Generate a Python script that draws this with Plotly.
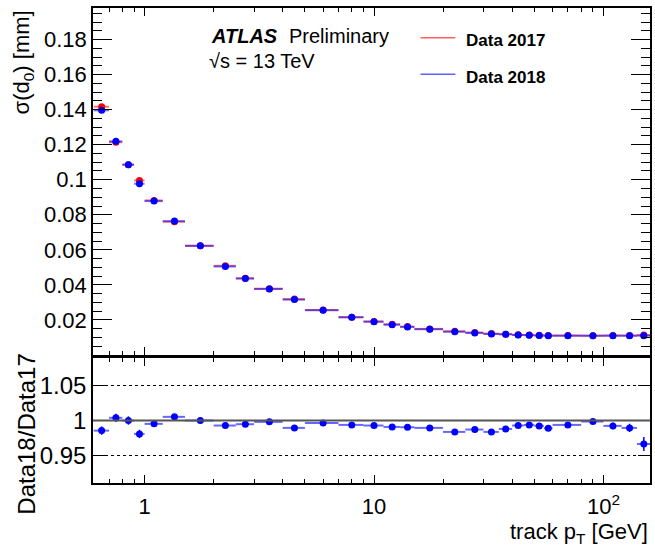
import plotly.graph_objects as go

# ---- data ----
bin_edges = [0.6, 0.7, 0.8, 0.9, 1.0, 1.2, 1.5, 2.0, 2.5, 3.0, 4.0, 5.0, 7.0, 9.0, 11.0, 13.0,
             15.0, 20.0, 25.0, 30.0, 35.0, 40.0, 45.0, 50.0, 55.0, 60.0, 80.0, 100.0, 120.0,
             140.0, 160.0]

data2017 = [0.1417, 0.1214, 0.1086, 0.0996, 0.0882, 0.0760, 0.0623, 0.0509, 0.0438, 0.0378,
            0.0319, 0.0256, 0.0216, 0.0191, 0.0175, 0.0162, 0.0149, 0.0135, 0.0128, 0.0122,
            0.0119, 0.0115, 0.0114, 0.0112, 0.0111, 0.0111, 0.0110, 0.0111, 0.0111, 0.0114]

data2018 = [0.1396, 0.1219, 0.1086, 0.0977, 0.0878, 0.0764, 0.0623, 0.0505, 0.0436, 0.0377,
            0.0316, 0.0255, 0.0215, 0.0190, 0.0173, 0.0160, 0.0147, 0.0133, 0.0126, 0.0120,
            0.0118, 0.0114, 0.0113, 0.0111, 0.0110, 0.0110, 0.0110, 0.0110, 0.0110, 0.0110]

ratio = [0.9855, 1.0039, 1.0000, 0.9807, 0.9952, 1.0053, 1.0000, 0.9928, 0.9947, 0.9981,
         0.9894, 0.9966, 0.9937, 0.9928, 0.9908, 0.9903, 0.9894, 0.9836, 0.9870, 0.9836,
         0.9879, 0.9928, 0.9937, 0.9923, 0.9889, 0.9937, 0.9986, 0.9923, 0.9894, 0.9662]

ratio_err = [0.006, 0.006, 0.006, 0.006, 0.004, 0.004, 0.002, 0.002, 0.002, 0.002,
             0.002, 0.002, 0.002, 0.002, 0.002, 0.002, 0.002, 0.002, 0.002, 0.002,
             0.002, 0.002, 0.002, 0.002, 0.003, 0.002, 0.003, 0.005, 0.006, 0.010]

y_ticks = [0.02, 0.04, 0.06, 0.08, 0.10, 0.12, 0.14, 0.16, 0.18]
y_ticktext = ["0.02", "0.04", "0.06", "0.08", "0.1", "0.12", "0.14", "0.16", "0.18"]
r_ticks = [0.95, 1.0, 1.05]
r_ticktext = ["0.95", "1", "1.05"]
x_ticks = [1, 10, 100]
x_ticktext = ["1", "10", "10<sup>2</sup>"]
x_minor = [0.6, 0.7, 0.8, 0.9, 2, 3, 4, 5, 6, 7, 8, 9, 20, 30, 40, 50, 60, 70, 80, 90]

# ---- derived bin geometry ----
lo = bin_edges[:-1]
hi = bin_edges[1:]
centers = [(a + b) / 2 for a, b in zip(lo, hi)]
err_plus = [b - c for b, c in zip(hi, centers)]
err_minus = [c - a for a, c in zip(lo, centers)]

FONT = "Liberation Sans, Arial, Helvetica, sans-serif"
RED = "#ff0000"
BLUE = "#0000ff"

fig = go.Figure()

fig.add_trace(go.Scatter(
    x=centers, y=data2017, mode="markers", name="Data 2017",
    marker=dict(color=RED, size=7),
    error_x=dict(type="data", symmetric=False, array=err_plus, arrayminus=err_minus,
                 color="rgba(255,0,0,0.55)", thickness=2, width=0),
    xaxis="x", yaxis="y", showlegend=False))

fig.add_trace(go.Scatter(
    x=centers, y=data2018, mode="markers", name="Data 2018",
    marker=dict(color=BLUE, size=7),
    error_x=dict(type="data", symmetric=False, array=err_plus, arrayminus=err_minus,
                 color="rgba(0,0,255,0.55)", thickness=2, width=0),
    xaxis="x", yaxis="y", showlegend=False))

fig.add_trace(go.Scatter(
    x=centers, y=ratio, mode="markers", name="ratio",
    marker=dict(color=BLUE, size=7),
    error_x=dict(type="data", symmetric=False, array=err_plus, arrayminus=err_minus,
                 color="rgba(0,0,255,0.6)", thickness=2, width=0),
    error_y=dict(type="data", array=ratio_err, color=BLUE, thickness=1.5, width=0),
    xaxis="x2", yaxis="y2", showlegend=False))

xrange = [-0.2248, 2.203]
axis_common = dict(showline=True, linecolor="black", linewidth=1.5, mirror="allticks",
                   ticks="inside", tickcolor="black", zeroline=False, showgrid=False)

fig.update_layout(
    width=655, height=548,
    margin=dict(l=93, r=3, t=8, b=65),
    paper_bgcolor="white", plot_bgcolor="white",
    font=dict(family=FONT, color="black"),
    xaxis=dict(type="log", range=xrange, domain=[0, 1], anchor="y",
               tickmode="array", tickvals=x_ticks, showticklabels=False, ticklen=8,
               minor=dict(tickmode="array", tickvals=x_minor, ticks="inside", ticklen=4,
                          tickcolor="black", showgrid=False),
               **axis_common),
    yaxis=dict(range=[0, 0.198], domain=[0.2695, 1], anchor="x",
               tickmode="array", tickvals=y_ticks, ticktext=y_ticktext, ticklen=19,
               tickfont=dict(size=22),
               minor=dict(dtick=0.005, tick0=0, ticks="inside", ticklen=9,
                          tickcolor="black", showgrid=False),
               **axis_common),
    xaxis2=dict(type="log", range=xrange, domain=[0, 1], anchor="y2",
                tickmode="array", tickvals=x_ticks, ticktext=x_ticktext, ticklen=8,
                tickfont=dict(size=22), ticklabelstandoff=3,
                minor=dict(tickmode="array", tickvals=x_minor, ticks="inside", ticklen=4,
                           tickcolor="black", showgrid=False),
                **axis_common),
    yaxis2=dict(range=[0.91, 1.09], domain=[0, 0.263], anchor="x2",
                tickmode="array", tickvals=r_ticks, ticktext=r_ticktext, ticklen=12,
                tickfont=dict(size=24),
                showline=True, linecolor="black", linewidth=1.5, mirror="allticks",
                ticks="inside", tickcolor="black", zeroline=False,
                showgrid=True, gridcolor="black", gridwidth=1, griddash="dot"),
)

# reference line at 1 in the ratio panel
fig.add_shape(type="line", xref="x2 domain", yref="y2", x0=0, x1=1, y0=1, y1=1,
              line=dict(color="#555555", width=2))

# legend (lines only)
fig.add_shape(type="line", xref="paper", yref="paper", x0=0.588, x1=0.6506,
              y0=0.9375, y1=0.9375, line=dict(color="#ff6060", width=1.5))
fig.add_shape(type="line", xref="paper", yref="paper", x0=0.588, x1=0.6506,
              y0=0.8604, y1=0.8604, line=dict(color="#6060ff", width=1.5))

ann = [
    dict(text="<b><i>ATLAS</i></b>", x=0.2075, y=0.9417, size=20),
    dict(text="Preliminary", x=0.3483, y=0.9417, size=20),
    dict(text="√s = 13 TeV", x=0.2055, y=0.888, size=20),
    dict(text="<b>Data 2017</b>", x=0.6655, y=0.932, size=17),
    dict(text="<b>Data 2018</b>", x=0.6655, y=0.854, size=17),
]
for a in ann:
    fig.add_annotation(text=a["text"], x=a["x"], y=a["y"], xref="paper", yref="paper",
                       xanchor="left", yanchor="middle", showarrow=False,
                       font=dict(size=a["size"], family=FONT, color="black"))

# axis titles
fig.add_annotation(text="σ(d<sub>0</sub>) [mm]", x=-0.125, y=1.0, xref="paper", yref="paper",
                   textangle=-90, xanchor="center", yanchor="top", showarrow=False,
                   font=dict(size=22, family=FONT, color="black"))
fig.add_annotation(text="Data18/Data17", x=-0.121, y=0.103, xref="paper", yref="paper",
                   textangle=-90, xanchor="center", yanchor="middle", showarrow=False,
                   font=dict(size=24, family=FONT, color="black"))
fig.add_annotation(text="track p<sub>T</sub> [GeV]", x=1.0, y=-0.106, xref="paper", yref="paper",
                   xanchor="right", yanchor="middle", showarrow=False,
                   font=dict(size=22, family=FONT, color="black"))

fig.write_html("out.html", config={"displayModeBar": False},
               post_script="document.body.style.margin='0';")
